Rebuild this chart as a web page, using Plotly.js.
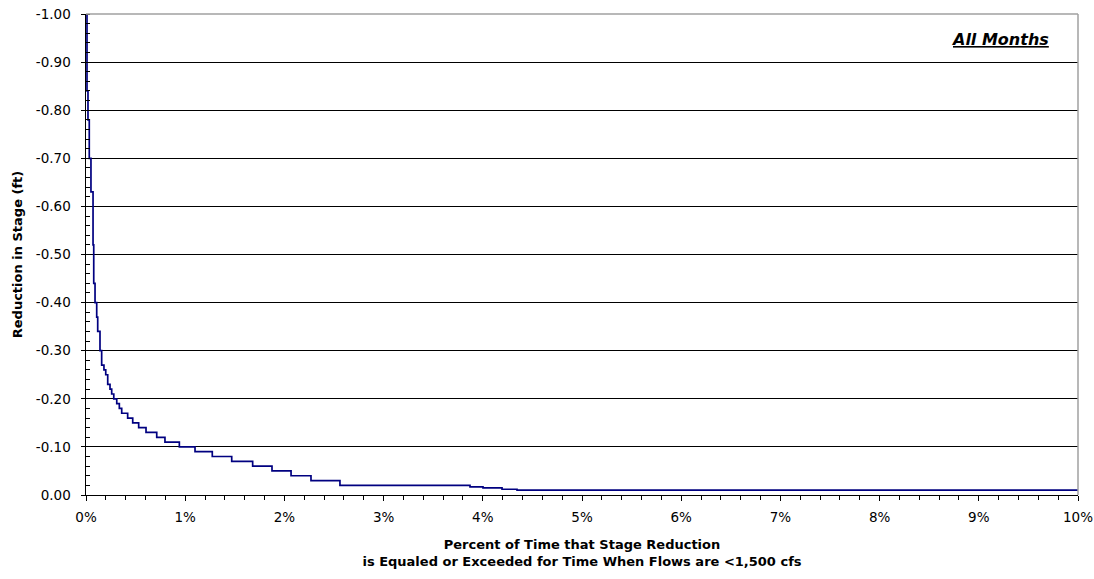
<!DOCTYPE html>
<html>
<head>
<meta charset="utf-8">
<script src="https://cdn.plot.ly/plotly-3.0.1.min.js"></script>
<style>
  html, body { margin: 0; padding: 0; background: #fff; }
  #chart { width: 1094px; height: 579px; }
</style>
</head>
<body>
<div id="chart"></div>
<script>
// Percent of time (start of each step) and the stage reduction held from there
const percentTime = [0, 0.010, 0.020, 0.033, 0.050, 0.071, 0.078, 0.091, 0.108, 0.118,
  0.141, 0.158, 0.181, 0.199, 0.219, 0.242, 0.259, 0.280, 0.310, 0.336,
  0.360, 0.420, 0.471, 0.531, 0.605, 0.713, 0.796, 0.941, 1.099, 1.273,
  1.469, 1.680, 1.875, 2.067, 2.268, 2.560, 3.871, 4.002, 4.194, 4.345, 10.0];
const stageReduction = [-1.00, -0.84, -0.78, -0.70, -0.63, -0.52, -0.44, -0.40, -0.37, -0.34,
  -0.30, -0.27, -0.26, -0.25, -0.23, -0.22, -0.21, -0.20, -0.19, -0.18,
  -0.17, -0.16, -0.15, -0.14, -0.13, -0.12, -0.11, -0.10, -0.09, -0.08,
  -0.07, -0.06, -0.05, -0.04, -0.03, -0.02, -0.017, -0.015, -0.012, -0.01, -0.01];

const yTickVals = [-1.0, -0.9, -0.8, -0.7, -0.6, -0.5, -0.4, -0.3, -0.2, -0.1, 0.0];
const yTickText = ["-1.00", "-0.90", "-0.80", "-0.70", "-0.60", "-0.50", "-0.40", "-0.30", "-0.20", "-0.10", "0.00"];
const xTickVals = [0, 1, 2, 3, 4, 5, 6, 7, 8, 9, 10];
const xTickText = ["0%", "1%", "2%", "3%", "4%", "5%", "6%", "7%", "8%", "9%", "10%"];

const FONT = "DejaVu Sans, Liberation Sans, Arial, sans-serif";

const trace = {
  x: percentTime,
  y: stageReduction,
  type: "scatter",
  mode: "lines",
  line: { color: "#000080", width: 1.7, shape: "hv" },
  hoverinfo: "skip",
  showlegend: false
};

const layout = {
  width: 1094,
  height: 579,
  margin: { l: 86, r: 16, t: 14, b: 84 },
  paper_bgcolor: "#ffffff",
  plot_bgcolor: "#ffffff",
  font: { family: FONT, size: 13, color: "#000" },
  showlegend: false,
  xaxis: {
    range: [0, 10],
    tickmode: "array",
    tickvals: xTickVals,
    ticktext: xTickText,
    ticks: "outside",
    ticklen: 5,
    tickwidth: 1,
    tickcolor: "#000",
    ticklabelstandoff: 5,
    minor: { dtick: 0.2, ticks: "outside", ticklen: 4, tickcolor: "#000", showgrid: false },
    showgrid: false,
    zeroline: false,
    showline: true,
    linecolor: "#000",
    linewidth: 1,
    tickfont: { family: FONT, size: 13.5 },
    title: {
      text: "<b>Percent of Time that Stage Reduction<br>is Equaled or Exceeded for Time When Flows are <1,500 cfs</b>",
      font: { family: FONT, size: 13 },
      standoff: 15
    },
    fixedrange: true
  },
  yaxis: {
    range: [0, -1],
    tickmode: "array",
    tickvals: yTickVals,
    ticktext: yTickText,
    ticks: "outside",
    ticklen: 4,
    tickwidth: 1,
    tickcolor: "#000",
    ticklabelstandoff: 7,
    minor: { dtick: 0.02, ticks: "inside", ticklen: 4, tickcolor: "#000", showgrid: false },
    showgrid: true,
    gridcolor: "#000",
    gridwidth: 1,
    zeroline: false,
    showline: true,
    linecolor: "#000",
    linewidth: 1.5,
    tickfont: { family: FONT, size: 13.5 },
    title: {
      text: "<b>Reduction in Stage (ft)</b>",
      font: { family: FONT, size: 13 },
      standoff: 10
    },
    fixedrange: true
  },
  shapes: [
    { type: "line", xref: "paper", yref: "paper", x0: 0, x1: 1, y0: 1, y1: 1,
      line: { color: "#a0a0a0", width: 1.5 }, layer: "above" },
    { type: "line", xref: "paper", yref: "paper", x0: 1, x1: 1, y0: 0, y1: 1,
      line: { color: "#a0a0a0", width: 1.5 }, layer: "above" }
  ],
  annotations: [
    {
      text: "<b><i><u>All Months</u></i></b>",
      xref: "paper", yref: "paper",
      x: 0.973, y: 0.948,
      xanchor: "right", yanchor: "middle",
      showarrow: false,
      font: { family: FONT, size: 16, color: "#000" }
    }
  ]
};

Plotly.newPlot("chart", [trace], layout, { staticPlot: true, displayModeBar: false });
</script>
</body>
</html>
